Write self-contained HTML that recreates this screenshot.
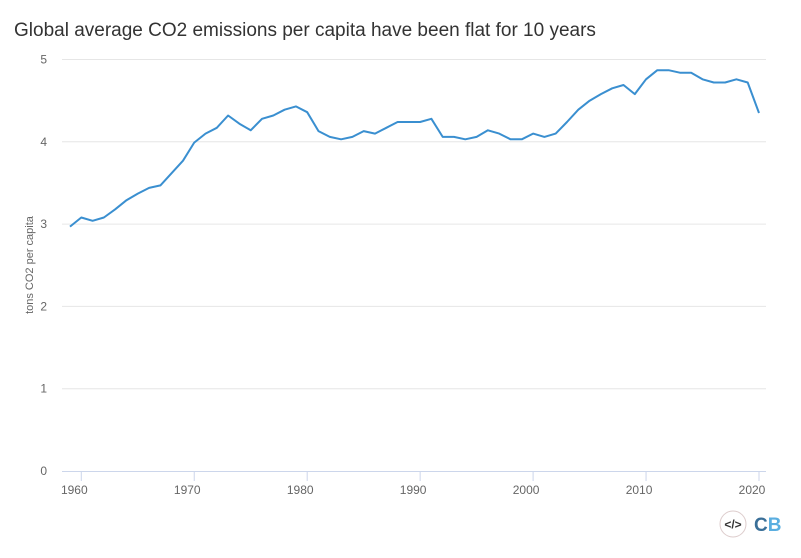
<!DOCTYPE html>
<html><head><meta charset="utf-8"><style>
body{margin:0;background:#fff;}
svg{display:block;font-family:"Liberation Sans",sans-serif;}
</style></head><body>
<svg width="801" height="558">
<text x="14" y="36" font-size="19" fill="#333">Global average CO2 emissions per capita have been flat for 10 years</text>
<g id="grid"></g><g id="xax"></g>
<text transform="translate(33,265) rotate(-90)" text-anchor="middle" font-size="11" fill="#666">tons CO2 per capita</text>
<path id="line" fill="none" stroke="#3a8fd0" stroke-width="2" stroke-linejoin="round"/>
<g><circle cx="733" cy="524" r="13" fill="#fff" stroke="#dcc"/><text x="733" y="528.5" text-anchor="middle" font-size="12" font-weight="bold" fill="#333">&lt;/&gt;</text></g>
<text x="754" y="531" font-size="19" font-weight="bold" fill="#3a6f98">C<tspan fill="#5aaee0">B</tspan></text>
</svg>
<script>
const startYear=1959;
const values=[2.97,3.08,3.04,3.08,3.18,3.29,3.37,3.44,3.47,3.62,3.77,3.99,4.10,4.17,4.32,4.22,4.14,4.28,4.32,4.39,4.43,4.36,4.13,4.06,4.03,4.06,4.13,4.10,4.17,4.24,4.24,4.24,4.28,4.06,4.06,4.03,4.06,4.14,4.10,4.03,4.03,4.10,4.06,4.10,4.24,4.39,4.50,4.58,4.65,4.69,4.58,4.76,4.87,4.87,4.84,4.84,4.76,4.72,4.72,4.76,4.72,4.35];
const yTicks=[0,1,2,3,4,5];
const xTicks=[1960,1970,1980,1990,2000,2010,2020];
const NS="http://www.w3.org/2000/svg";
const X=yr=>70+(yr-1959)*(689/61);
const Y=v=>471-v*82.3;
const grid=document.getElementById('grid'),xax=document.getElementById('xax');
function mk(tag,attrs,parent){const e=document.createElementNS(NS,tag);for(const k in attrs)e.setAttribute(k,attrs[k]);parent.appendChild(e);return e;}
yTicks.forEach(t=>{
  if(t>0){const l=mk('line',{x1:62,x2:766,y1:Y(t),y2:Y(t),stroke:'#e6e6e6'},grid);
  
  }
  const tx=mk('text',{x:47,y:Y(t)+4,'text-anchor':'end','font-size':12,fill:'#666'},grid);tx.textContent=t;
  
  
});
const base=mk('line',{x1:62,x2:766,y1:471.5,y2:471.5,stroke:'#ccd6eb'},xax);


xTicks.forEach(t=>{
  const tk=mk('line',{x1:X(t),x2:X(t),y1:471,y2:481,stroke:'#ccd6eb'},xax);
  
  
  const tx=mk('text',{x:X(t)-7,y:494,'text-anchor':'middle','font-size':12,fill:'#666'},xax);tx.textContent=t;
  
  
});
document.getElementById('line').setAttribute('d',values.map((v,i)=>(i?'L':'M')+X(startYear+i).toFixed(1)+','+Y(v).toFixed(1)).join(''));
</script>
</body></html>
